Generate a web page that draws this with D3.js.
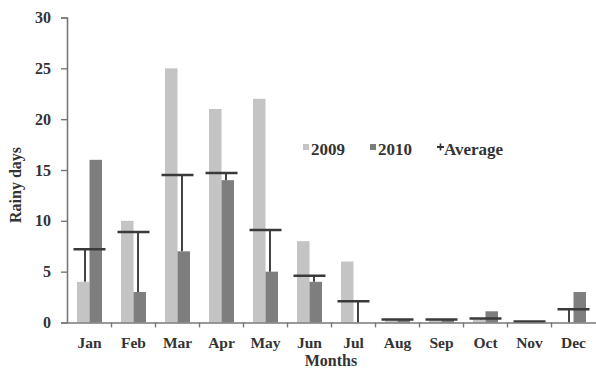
<!DOCTYPE html>
<html>
<head>
<meta charset="utf-8">
<script src="https://cdn.jsdelivr.net/npm/d3@7"></script>
<style>
  html, body { margin: 0; padding: 0; background: #fff; }
  svg text { font-family: "Liberation Serif", "Times New Roman", serif; font-weight: bold; fill: #333; }
</style>
</head>
<body>
<svg id="chart" width="596" height="370"></svg>
<script>
const months = ["Jan","Feb","Mar","Apr","May","Jun","Jul","Aug","Sep","Oct","Nov","Dec"];
const series = ["2009","2010"];
const values2009 = [4, 10, 25, 21, 22, 8, 6, 0.3, 0.3, 0.3, 0.1, 0];
const values2010 = [16, 3, 7, 14, 5, 4, 0, 0.3, 0.3, 1.1, 0.1, 3];
const average    = [7.2, 8.9, 14.5, 14.7, 9.1, 4.6, 2.1, 0.3, 0.3, 0.4, 0.1, 1.3];
const yTicks = [0, 5, 10, 15, 20, 25, 30];

const colors = { "2009": "#c4c4c4", "2010": "#7e7e7e" };
const svg = d3.select("#chart");

const x = d3.scaleBand().domain(months).range([67.5, 595.5]).padding(0);
const xs = d3.scaleBand().domain(series).range([0, x.bandwidth()]).paddingInner(0).paddingOuter(0.76);
const y = d3.scaleLinear().domain([0, 30]).range([322.5, 17.5]);

const rows = months.map((m, i) => ({ month: m, v: { "2009": values2009[i], "2010": values2010[i] }, avg: average[i] }));

// bars
const g = svg.append("g");
rows.forEach(r => {
  series.forEach(s => {
    g.append("rect")
      .attr("x", x(r.month) + xs(s))
      .attr("y", y(r.v[s]))
      .attr("width", xs.bandwidth())
      .attr("height", y(0) - y(r.v[s]))
      .attr("fill", colors[s]);
  });
});

// average with minus error bar down to the lower value
rows.forEach(r => {
  const c = x(r.month) + x.bandwidth() / 2;
  const low = Math.min(r.v["2009"], r.v["2010"]);
  const lowSeries = r.v["2009"] <= r.v["2010"] ? "2009" : "2010";
  const ex = c + (lowSeries === "2009" ? -1 : 1) * xs.bandwidth() * 0.36;
  if (r.avg - low > 0.05) {
    g.append("line")
      .attr("x1", ex).attr("x2", ex)
      .attr("y1", y(r.avg)).attr("y2", y(low))
      .attr("stroke", "#444").attr("stroke-width", 2);
  }
  g.append("line")
    .attr("x1", c - 16).attr("x2", c + 16)
    .attr("y1", y(r.avg)).attr("y2", y(r.avg))
    .attr("stroke", "#3a3a3a").attr("stroke-width", 2.5);
});

// y axis
const yAxis = d3.axisLeft(y).tickValues(yTicks).tickSize(6).tickPadding(10);
const ya = svg.append("g").attr("transform", "translate(67,0)").call(yAxis);
ya.select(".domain").attr("stroke", "#777").attr("stroke-width", 1.6);
ya.selectAll(".tick line").attr("stroke", "#777").attr("stroke-width", 1.4);
ya.selectAll(".tick text").style("font-size", "16px").attr("fill", "#333");

// x axis
const xAxis = d3.axisBottom(x).tickSize(0).tickPadding(14);
const xa = svg.append("g").attr("transform", "translate(0,322.5)").call(xAxis);
xa.select(".domain").attr("stroke", "#777").attr("stroke-width", 1.6);
xa.selectAll(".tick text").style("font-size", "15.5px").attr("fill", "#333");
// category boundary ticks
xa.selectAll(".bound").data(months.slice(1)).enter().append("line")
  .attr("x1", d => x(d)).attr("x2", d => x(d))
  .attr("y1", 0).attr("y2", 5)
  .attr("stroke", "#777").attr("stroke-width", 1.4);

// axis titles
svg.append("text").attr("transform", "translate(21,185) rotate(-90)")
  .attr("text-anchor", "middle").style("font-size", "16px").text("Rainy days");
svg.append("text").attr("x", 331).attr("y", 366)
  .attr("text-anchor", "middle").style("font-size", "16px").text("Months");

// legend
const lg = svg.append("g");
lg.append("rect").attr("x", 303).attr("y", 144).attr("width", 6).attr("height", 6).attr("fill", colors["2009"]);
lg.append("text").attr("x", 311).attr("y", 155).style("font-size", "17px").text("2009");
lg.append("rect").attr("x", 370).attr("y", 144).attr("width", 6).attr("height", 6).attr("fill", colors["2010"]);
lg.append("text").attr("x", 378).attr("y", 155).style("font-size", "17px").text("2010");
lg.append("line").attr("x1", 437).attr("x2", 444).attr("y1", 147).attr("y2", 147).attr("stroke", "#333").attr("stroke-width", 2);
lg.append("line").attr("x1", 440.5).attr("x2", 440.5).attr("y1", 143.5).attr("y2", 150.5).attr("stroke", "#333").attr("stroke-width", 1.6);
lg.append("text").attr("x", 444).attr("y", 155).style("font-size", "17px").text("Average");
</script>
</body>
</html>
